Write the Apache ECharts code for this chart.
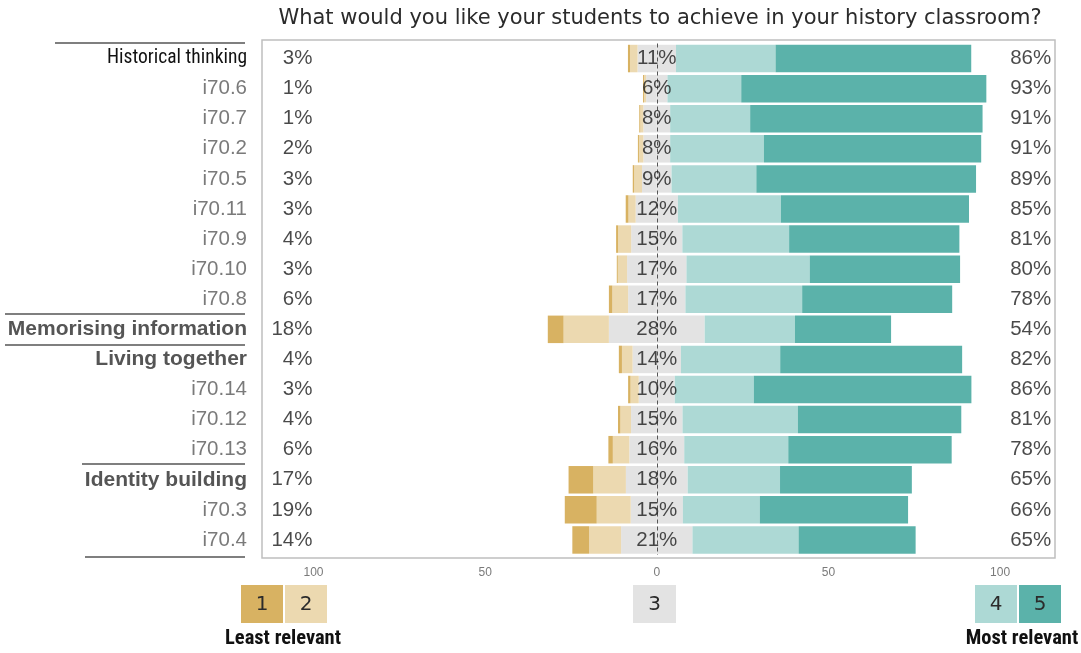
<!DOCTYPE html>
<html>
<head>
<meta charset="utf-8">
<script src="https://cdn.jsdelivr.net/npm/echarts@6/dist/echarts.min.js"></script>
<style>
html,body{margin:0;padding:0;background:#fff;}
#chart{width:1081px;height:653px;}
</style>
</head>
<body>
<div id="chart"></div>
<script>
// ---- data ----
const categories = ['Historical thinking','i70.6','i70.7','i70.2','i70.5','i70.11','i70.9','i70.10','i70.8',
  'Memorising information','Living together','i70.14','i70.12','i70.13','Identity building','i70.3','i70.4'];
const boldHeaders = ['Memorising information','Living together','Identity building'];
const plainHeaders = ['Historical thinking'];
const level1 = [0.6,0.3,0.3,0.3,0.4,0.8,0.6,0.3,1.0,4.6,0.9,0.7,0.7,1.3,7.2,9.3,4.9];
const level2 = [2.2,0.6,0.9,1.3,2.3,2.1,3.8,2.7,4.6,13.2,3.1,2.4,3.1,4.8,9.5,9.9,9.3];
const level3 = [11.2,6.2,7.8,7.8,8.6,12.3,14.9,17.3,16.7,27.9,14.1,10.5,15.0,16.0,18.0,15.2,20.8];
const level4 = [29.0,21.5,23.3,27.3,24.7,30.0,31.1,35.9,34.0,26.3,28.9,23.0,33.6,30.3,26.9,22.4,30.9];
const level5 = [57.0,71.4,67.7,63.3,64.0,54.8,49.6,43.8,43.7,28.0,53.0,63.4,47.6,47.6,38.4,43.2,34.1];
const leftLabels   = [3,1,1,2,3,3,4,3,6,18,4,3,4,6,17,19,14];
const centerLabels = [11,6,8,8,9,12,15,17,17,28,14,10,15,16,18,15,21];
const rightLabels  = [86,93,91,91,89,85,81,80,78,54,82,86,81,78,65,66,65];
const tickValues = [-100,-50,0,50,100];
const title = 'What would you like your students to achieve in your history classroom?';

const colors = {c1:'#D8B262', c2:'#ECD9B0', c3:'#E3E3E3', c4:'#ADD9D5', c5:'#5BB2AA'};
const LEFT_POS = -100.3, RIGHT_POS = 114.9;

const chart = echarts.init(document.getElementById('chart'));
const barBase = {type:'bar', stack:'likert', barWidth:27.5, emphasis:{disabled:true}, silent:true};
const condensed = "'Liberation Sans Narrow','Roboto Condensed','DejaVu Sans Condensed',Roboto,sans-serif";
const sans = "'Liberation Sans',Arial,Helvetica,sans-serif";

const labelSeries = (pos, arr, align) => ({
  type:'scatter', symbolSize:0.1, itemStyle:{color:'transparent'}, silent:true, z:10,
  data: categories.map((c,i)=>[pos,i]),
  label:{show:true, position: align==='right' ? 'left' : 'inside', distance:0,
    formatter:p=>arr[p.dataIndex]+'%', fontFamily:sans, fontSize:20.5, color:'#1c1c1c'}
});

chart.setOption({
  animation:false,
  title:{text:title, left:655, top:3, textAlign:'center',
    textStyle:{fontFamily:"'DejaVu Sans',sans-serif", fontSize:21, fontWeight:'normal', color:'#2b2b2b'}},
  grid:{left:262, width:793, top:43.5, height:511.5},
  xAxis:{type:'value', min:-115, max:116,
    axisLine:{show:false}, axisTick:{show:false}, splitLine:{show:false},
    axisLabel:{customValues:tickValues, formatter:v=>String(Math.abs(v)), color:'#7a7a7a', fontSize:12, fontFamily:sans, margin:12}},
  yAxis:{type:'category', inverse:true, data:categories,
    axisLine:{show:false}, axisTick:{show:false},
    axisLabel:{margin:15,
      formatter:v=> boldHeaders.includes(v) ? '{b|'+v+'}' : (plainHeaders.includes(v) ? '{h|'+v+'}' : '{n|'+v+'}'),
      rich:{
        b:{fontFamily:sans, fontWeight:'bold', fontSize:21, color:'#555555'},
        h:{fontFamily:condensed, fontSize:19.5, color:'#111111'},
        n:{fontFamily:sans, fontSize:20.5, color:'#7a7a7a'}
      }}},
  series:[
    Object.assign({}, barBase, {name:'3L', data:level3.map(v=>-v/2), itemStyle:{color:colors.c3}}),
    Object.assign({}, barBase, {name:'2', data:level2.map(v=>-v), itemStyle:{color:colors.c2}}),
    Object.assign({}, barBase, {name:'1', data:level1.map(v=>-v), itemStyle:{color:colors.c1}}),
    Object.assign({}, barBase, {name:'3R', data:level3.map(v=>v/2), itemStyle:{color:colors.c3}}),
    Object.assign({}, barBase, {name:'4', data:level4, itemStyle:{color:colors.c4}}),
    Object.assign({}, barBase, {name:'5', data:level5, itemStyle:{color:colors.c5},
      markLine:{silent:true, symbol:'none', label:{show:false},
        lineStyle:{type:[4,3], color:'#555555', width:1}, data:[{xAxis:0}]}}),
    labelSeries(LEFT_POS, leftLabels, 'right'),
    labelSeries(0, centerLabels, 'center'),
    labelSeries(RIGHT_POS, rightLabels, 'right')
  ],
  graphic:[
    {type:'rect', shape:{x:262,y:40,width:793,height:518}, style:{fill:'none', stroke:'#bfbfbf', lineWidth:1.5}, z:0},
    {type:'line', shape:{x1:55,y1:43,x2:245,y2:43}, style:{stroke:'#555', lineWidth:1.5}},
    {type:'line', shape:{x1:5,y1:314,x2:245,y2:314}, style:{stroke:'#555', lineWidth:1.5}},
    {type:'line', shape:{x1:5,y1:345,x2:245,y2:345}, style:{stroke:'#555', lineWidth:1.5}},
    {type:'line', shape:{x1:82,y1:464,x2:245,y2:464}, style:{stroke:'#555', lineWidth:1.5}},
    {type:'line', shape:{x1:85,y1:557,x2:245,y2:557}, style:{stroke:'#555', lineWidth:1.5}},
    // legend boxes
    {type:'rect', shape:{x:241,y:585,width:42,height:38}, style:{fill:colors.c1}},
    {type:'rect', shape:{x:285,y:585,width:42,height:38}, style:{fill:colors.c2}},
    {type:'rect', shape:{x:633,y:585,width:43,height:38}, style:{fill:colors.c3}},
    {type:'rect', shape:{x:975,y:585,width:42,height:38}, style:{fill:colors.c4}},
    {type:'rect', shape:{x:1019,y:585,width:42,height:38}, style:{fill:colors.c5}},
    {type:'text', x:262, y:605, style:{text:'1', align:'center', verticalAlign:'middle', font:"20px 'DejaVu Sans'", fill:'#2b2b2b'}},
    {type:'text', x:306, y:605, style:{text:'2', align:'center', verticalAlign:'middle', font:"20px 'DejaVu Sans'", fill:'#2b2b2b'}},
    {type:'text', x:654.5, y:605, style:{text:'3', align:'center', verticalAlign:'middle', font:"20px 'DejaVu Sans'", fill:'#2b2b2b'}},
    {type:'text', x:996, y:605, style:{text:'4', align:'center', verticalAlign:'middle', font:"20px 'DejaVu Sans'", fill:'#2b2b2b'}},
    {type:'text', x:1040, y:605, style:{text:'5', align:'center', verticalAlign:'middle', font:"20px 'DejaVu Sans'", fill:'#2b2b2b'}},
    {type:'text', x:283, y:639, style:{text:'Least relevant', align:'center', verticalAlign:'middle', font:"bold 20.5px "+condensed, fill:'#111'}},
    {type:'text', x:1022, y:639, style:{text:'Most relevant', align:'center', verticalAlign:'middle', font:"bold 20.5px "+condensed, fill:'#111'}}
  ]
});
</script>
</body>
</html>
